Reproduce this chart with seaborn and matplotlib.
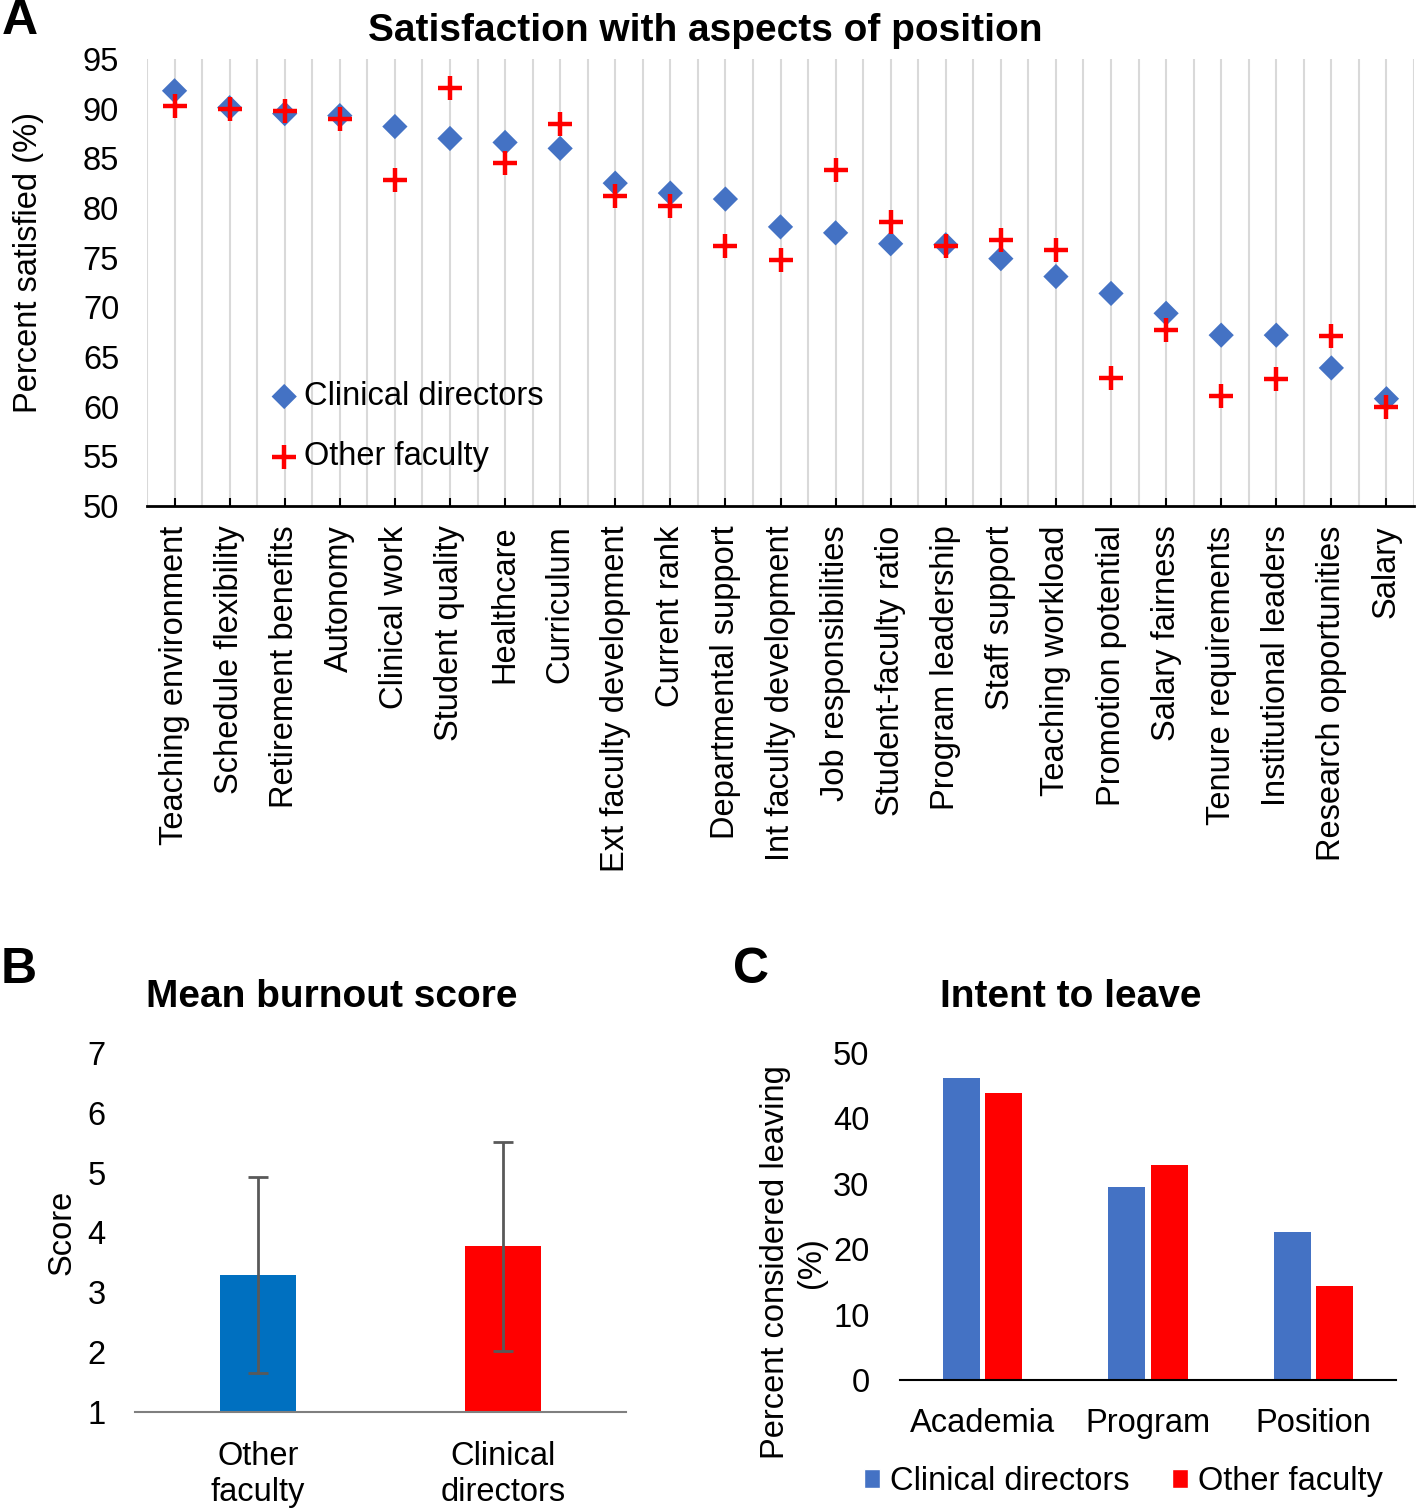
import numpy as np
import pandas as pd
import seaborn as sns
import matplotlib.pyplot as plt
from matplotlib.patches import Patch

# panel A: satisfaction with aspects of position
aspects = ['Teaching environment', 'Schedule flexibility', 'Retirement benefits', 'Autonomy',
           'Clinical work', 'Student quality', 'Healthcare', 'Curriculum',
           'Ext faculty development', 'Current rank', 'Departmental support',
           'Int faculty development', 'Job responsibilities', 'Student-faculty ratio',
           'Program leadership', 'Staff support', 'Teaching workload', 'Promotion potential',
           'Salary fairness', 'Tenure requirements', 'Institutional leaders',
           'Research opportunities', 'Salary']
directors_sat = [91.8, 90.1, 89.5, 89.3, 88.2, 87.0, 86.6, 86.0, 82.5, 81.5, 80.9,
                 78.1, 77.5, 76.4, 76.3, 74.9, 73.1, 71.4, 69.4, 67.2, 67.2, 63.9, 60.8]
faculty_sat = [90.3, 90.0, 89.8, 89.0, 82.8, 92.1, 84.5, 88.5, 81.2, 80.2, 76.2,
               74.8, 83.8, 78.6, 76.2, 76.8, 75.8, 62.9, 67.7, 61.1, 62.8, 67.1, 60.0]

# panel B: mean burnout score
burnout_groups = ['Other\nfaculty', 'Clinical\ndirectors']
burnout_mean = [3.29, 3.77]
burnout_sd = [1.63, 1.75]

# panel C: intent to leave
leave_types = ['Academia', 'Program', 'Position']
leave_directors = [46.2, 29.5, 22.7]
leave_faculty = [43.9, 32.9, 14.3]

BLUE = '#4472C4'
RED = '#FF0000'
FS = 23.5

sns.set_theme(style='white')
plt.rcParams['font.family'] = ['Liberation Sans', 'DejaVu Sans']
plt.rcParams.update({'text.color': 'black', 'axes.labelcolor': 'black',
                     'xtick.color': 'black', 'ytick.color': 'black'})

fig = plt.figure(figsize=(14.16, 15.1), dpi=100)
W, H = 1416, 1510


def box(x0, y0, x1, y1):
    return [x0 / W, 1 - y1 / H, (x1 - x0) / W, (y1 - y0) / H]


# ---------------- A ----------------
axA = fig.add_axes(box(147, 59, 1414, 506))
df_a = pd.DataFrame({'aspect': aspects,
                     'Clinical directors': directors_sat,
                     'Other faculty': faculty_sat})
diamond = [(0, 1), (1, 0), (0, -1), (-1, 0), (0, 1)]
sns.scatterplot(data=df_a, x='aspect', y='Clinical directors', marker=diamond, s=330,
                color=BLUE, edgecolor='none', label='Clinical directors', ax=axA, zorder=3)
sns.scatterplot(data=df_a, x='aspect', y='Other faculty', marker='+', s=280,
                color=RED, linewidth=3.2, label='Other faculty', ax=axA, zorder=4)
axA.set_xlim(-0.5, len(aspects) - 0.5)
axA.set_ylim(50, 95)
axA.set_yticks(range(50, 96, 5))
for gx in np.arange(-0.5, len(aspects), 0.5):
    axA.axvline(gx, color='#D9D9D9', lw=1.5, zorder=0)
for s in ['left', 'right', 'top']:
    axA.spines[s].set_visible(False)
axA.spines['bottom'].set_color('black')
axA.spines['bottom'].set_linewidth(2)
axA.tick_params(axis='x', bottom=True, direction='in', length=6, width=1.5,
                labelsize=FS, pad=14, labelrotation=90)
axA.tick_params(axis='y', left=False, labelsize=FS, pad=14)
for t in axA.get_xticklabels():
    t.set_va('top')
axA.set_xlabel('')
axA.set_ylabel('Percent satisfied (%)', fontsize=FS)
axA.yaxis.set_label_coords(-0.081, 0.544)
axA.legend(loc='lower left', bbox_to_anchor=(0.098, 0.075), frameon=False,
           fontsize=FS, handlelength=0.8, handletextpad=0.2, labelspacing=0.9,
           borderpad=0, borderaxespad=0)
fig.text(705 / W, 1 - 31 / H, 'Satisfaction with aspects of position', fontsize=28,
         fontweight='bold', ha='center', va='center')
fig.text(20 / W, 1 - 21 / H, 'A', fontsize=36, fontweight='bold', ha='center', va='center')

# ---------------- B ----------------
axB = fig.add_axes(box(135, 1053, 626, 1412))
df_b = pd.DataFrame({'group': burnout_groups, 'score': burnout_mean})
sns.barplot(data=df_b, x='group', y='score', hue='group', palette=['#0070C0', RED],
            width=0.31, saturation=1, linewidth=0, legend=False, ax=axB)
axB.errorbar(x=[0, 1], y=burnout_mean, yerr=burnout_sd, fmt='none', ecolor='#595959',
             elinewidth=2, capsize=7, capthick=2, zorder=5)
axB.set_ylim(1, 7)
axB.set_xlim(-0.5, 1.5)
axB.set_yticks(range(1, 8))
for s in ['left', 'right', 'top']:
    axB.spines[s].set_visible(False)
axB.spines['bottom'].set_color('#7F7F7F')
axB.spines['bottom'].set_linewidth(1.5)
axB.tick_params(axis='x', bottom=False, labelsize=FS, pad=15)
axB.tick_params(axis='y', left=False, labelsize=FS, pad=15)
axB.set_xlabel('')
axB.set_ylabel('Score', fontsize=FS)
axB.yaxis.set_label_coords(-0.116, 0.5)
fig.text(332 / W, 1 - 997 / H, 'Mean burnout score', fontsize=28,
         fontweight='bold', ha='center', va='center')
fig.text(19 / W, 1 - 970 / H, 'B', fontsize=36, fontweight='bold', ha='center', va='center')

# ---------------- C ----------------
axC = fig.add_axes(box(900, 1053, 1396, 1380))
df_c = pd.DataFrame({'type': leave_types * 2,
                     'group': ['Clinical directors'] * 3 + ['Other faculty'] * 3,
                     'pct': leave_directors + leave_faculty})
sns.barplot(data=df_c, x='type', y='pct', hue='group',
            palette={'Clinical directors': BLUE, 'Other faculty': RED},
            width=0.51, gap=0.12, saturation=1, linewidth=0, ax=axC)
axC.set_ylim(0, 50)
axC.set_xlim(-0.5, 2.5)
axC.set_yticks(range(0, 51, 10))
for s in ['left', 'right', 'top']:
    axC.spines[s].set_visible(False)
axC.spines['bottom'].set_color('black')
axC.spines['bottom'].set_linewidth(1.5)
axC.tick_params(axis='x', bottom=False, labelsize=FS, pad=14)
axC.tick_params(axis='y', left=False, labelsize=FS, pad=16)
axC.set_xlabel('')
axC.set_ylabel('Percent considered leaving\n(%)', fontsize=FS, linespacing=1.2)
axC.yaxis.set_label_coords(-0.148, 0.36)
handles = [Patch(facecolor=BLUE), Patch(facecolor=RED)]
axC.legend(handles, ['Clinical directors', 'Other faculty'], loc='center',
           bbox_to_anchor=(0.45, -0.31), ncol=2, frameon=False, fontsize=FS,
           handlelength=0.5, handleheight=0.5, handletextpad=0.3, columnspacing=1.3,
           borderpad=0, borderaxespad=0)
fig.text(1071 / W, 1 - 997 / H, 'Intent to leave', fontsize=28,
         fontweight='bold', ha='center', va='center')
fig.text(751 / W, 1 - 970 / H, 'C', fontsize=36, fontweight='bold', ha='center', va='center')

fig.savefig('out.png', dpi=100)
